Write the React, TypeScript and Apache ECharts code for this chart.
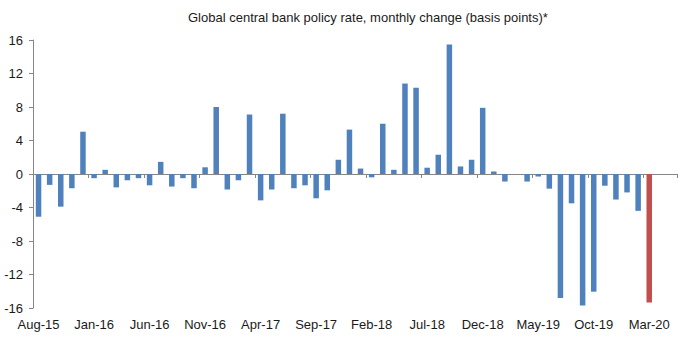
import React, { useEffect, useRef } from "react";
import * as echarts from "echarts";

const months: string[] = [
  "Aug-15", "Sep-15", "Oct-15", "Nov-15", "Dec-15",
  "Jan-16", "Feb-16", "Mar-16", "Apr-16", "May-16", "Jun-16", "Jul-16", "Aug-16", "Sep-16", "Oct-16", "Nov-16", "Dec-16",
  "Jan-17", "Feb-17", "Mar-17", "Apr-17", "May-17", "Jun-17", "Jul-17", "Aug-17", "Sep-17", "Oct-17", "Nov-17", "Dec-17",
  "Jan-18", "Feb-18", "Mar-18", "Apr-18", "May-18", "Jun-18", "Jul-18", "Aug-18", "Sep-18", "Oct-18", "Nov-18", "Dec-18",
  "Jan-19", "Feb-19", "Mar-19", "Apr-19", "May-19", "Jun-19", "Jul-19", "Aug-19", "Sep-19", "Oct-19", "Nov-19", "Dec-19",
  "Jan-20", "Feb-20", "Mar-20", "Apr-20", "May-20",
];

const rateChange: (number | null)[] = [
  -5.1, -1.3, -3.9, -1.7, 5.05,
  -0.5, 0.5, -1.6, -0.75, -0.5, -1.35, 1.45, -1.5, -0.5, -1.7, 0.8, 8.0,
  -1.85, -0.75, 7.1, -3.15, -1.85, 7.2, -1.7, -1.35, -2.9, -1.95, 1.7, 5.3,
  0.65, -0.4, 6.0, 0.5, 10.8, 10.3, 0.75, 2.3, 15.45, 0.9, 1.7, 7.9,
  0.3, -0.9, 0, -0.9, -0.3, -1.75, -14.8, -3.5, -15.7, -14.05, -1.4, -3.05,
  -2.2, -4.4, -15.35, null, null,
];

const highlightMonth = "Mar-20";
const yTicks = { min: -16, max: 16, interval: 4 };
const title = "Global central bank policy rate, monthly change (basis points)*";

export default function App() {
  const ref = useRef<HTMLDivElement>(null);
  useEffect(() => {
    if (!ref.current) return;
    const chart = echarts.init(ref.current, undefined, { renderer: "svg" });
    const font = "'Liberation Sans', Arial, sans-serif";
    chart.setOption({
      animation: false,
      backgroundColor: "#ffffff",
      title: {
        text: title,
        left: 183,
        top: 6,
        textStyle: { fontFamily: font, fontSize: 13, fontWeight: "normal", color: "#1a1a1a" },
      },
      grid: { left: 33, right: 5, top: 40, bottom: 35, containLabel: false },
      xAxis: [
        {
          type: "category",
          data: months,
          position: "bottom",
          axisLine: { show: false, onZero: false },
          axisTick: { show: false },
          axisLabel: { interval: 4, margin: 10, fontFamily: font, fontSize: 13, color: "#1a1a1a" },
          splitLine: { show: false },
        },
        {
          type: "category",
          data: months,
          position: "bottom",
          axisLine: { show: true, onZero: true, lineStyle: { color: "#868686", width: 1 } },
          axisTick: { show: true, interval: 4, length: 4, lineStyle: { color: "#868686" } },
          axisLabel: { show: false },
          splitLine: { show: false },
        },
      ],
      yAxis: {
        type: "value",
        min: yTicks.min,
        max: yTicks.max,
        interval: yTicks.interval,
        axisLine: { show: true, lineStyle: { color: "#868686", width: 1 } },
        axisTick: { show: true, length: 4, lineStyle: { color: "#868686" } },
        axisLabel: { margin: 10, fontFamily: font, fontSize: 13, color: "#1a1a1a" },
        splitLine: { show: false },
      },
      series: [
        {
          type: "bar",
          xAxisIndex: 0,
          barWidth: 5.5,
          data: rateChange.map((v, i) => ({
            value: v,
            itemStyle: { color: months[i] === highlightMonth ? "#C0504D" : "#4F81BD" },
          })),
        },
      ],
    });
    return () => chart.dispose();
  }, []);
  return <div ref={ref} style={{ position: "fixed", left: 0, top: 0, width: 682, height: 343 }} />;
}
